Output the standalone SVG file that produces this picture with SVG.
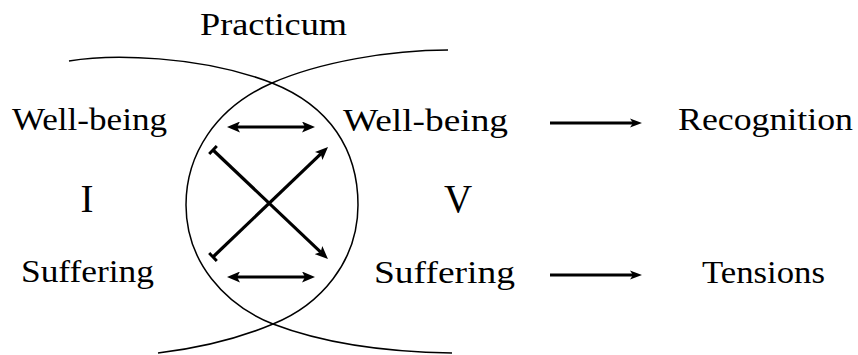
<svg xmlns="http://www.w3.org/2000/svg" width="858" height="355" viewBox="0 0 858 355">
<style>
  text { font-family: "Times New Roman", "Liberation Serif", Tinos, "Nimbus Roman", Times, serif; fill: #000; }
  .lbl { font-size: 31px; }
  .big { font-size: 39px; text-anchor: middle; }
  .curve { fill: none; stroke: #000; stroke-width: 1.5; }
  .thick { fill: none; stroke: #000; stroke-width: 3.2; }
  .flow { fill: none; stroke: #000; stroke-width: 2.8; }
</style>
<defs>
  <marker id="head" viewBox="0 0 13 11" refX="3" refY="5.5" markerWidth="13" markerHeight="11" markerUnits="userSpaceOnUse" orient="auto-start-reverse">
    <path d="M0,0 L13,5.5 L0,11 L3,5.5 z" fill="#000"/>
  </marker>
  <marker id="bar" viewBox="-2 -6 4 12" refX="0" refY="0" markerWidth="4" markerHeight="12" markerUnits="userSpaceOnUse" orient="auto">
    <path d="M0,-5.5 L0,5.5" stroke="#000" stroke-width="3"/>
  </marker>
  <marker id="flowhead" viewBox="0 0 12 10" refX="3" refY="5" markerWidth="12" markerHeight="10" markerUnits="userSpaceOnUse" orient="auto">
    <path d="M0,0.5 L12,5 L0,9.5 L3,5 z" fill="#000"/>
  </marker>
</defs>

<g id="loop">
  <path class="curve" d="M69,61 C110,54 200,55 272,83 C330,106 358,150 358,205 C358,262 320,305 273,324 C235,340 200,348 158,353"/>
  <path class="curve" d="M448,50 C390,50 320,62 272,83 C215,108 186,155 186,205 C186,262 225,305 273,324 C320,342 380,352 452,353"/>
</g>

<g id="practicum"><text class="lbl" x="200" y="35" textLength="147" lengthAdjust="spacingAndGlyphs">Practicum</text></g>
<g id="wellbeing-I"><text class="lbl" x="12" y="130" textLength="155" lengthAdjust="spacingAndGlyphs">Well-being</text></g>
<g id="I"><text class="big" x="87" y="212">I</text></g>
<g id="suffering-I"><text class="lbl" x="21" y="282" textLength="133" lengthAdjust="spacingAndGlyphs">Suffering</text></g>
<g id="wellbeing-V"><text class="lbl" x="343" y="131" textLength="165" lengthAdjust="spacingAndGlyphs">Well-being</text></g>
<g id="V"><text class="big" x="458" y="212">V</text></g>
<g id="suffering-V"><text class="lbl" x="374" y="283" textLength="141" lengthAdjust="spacingAndGlyphs">Suffering</text></g>
<g id="recognition"><text class="lbl" x="678" y="130" textLength="175" lengthAdjust="spacingAndGlyphs">Recognition</text></g>
<g id="tensions"><text class="lbl" x="702" y="283" textLength="123" lengthAdjust="spacingAndGlyphs">Tensions</text></g>

<g id="connectors">
  <line class="thick" x1="237" y1="127" x2="305" y2="127" marker-start="url(#head)" marker-end="url(#head)"/>
  <line class="thick" x1="237" y1="277" x2="305" y2="277" marker-start="url(#head)" marker-end="url(#head)"/>
  <line class="thick" x1="213" y1="150" x2="320.7" y2="252.1" marker-start="url(#bar)" marker-end="url(#head)"/>
  <line class="thick" x1="213" y1="257" x2="320.8" y2="153.9" marker-start="url(#bar)" marker-end="url(#head)"/>
  <line class="flow" x1="550" y1="123" x2="633" y2="123" marker-end="url(#flowhead)"/>
  <line class="flow" x1="550" y1="275" x2="633" y2="275" marker-end="url(#flowhead)"/>
</g>
</svg>
